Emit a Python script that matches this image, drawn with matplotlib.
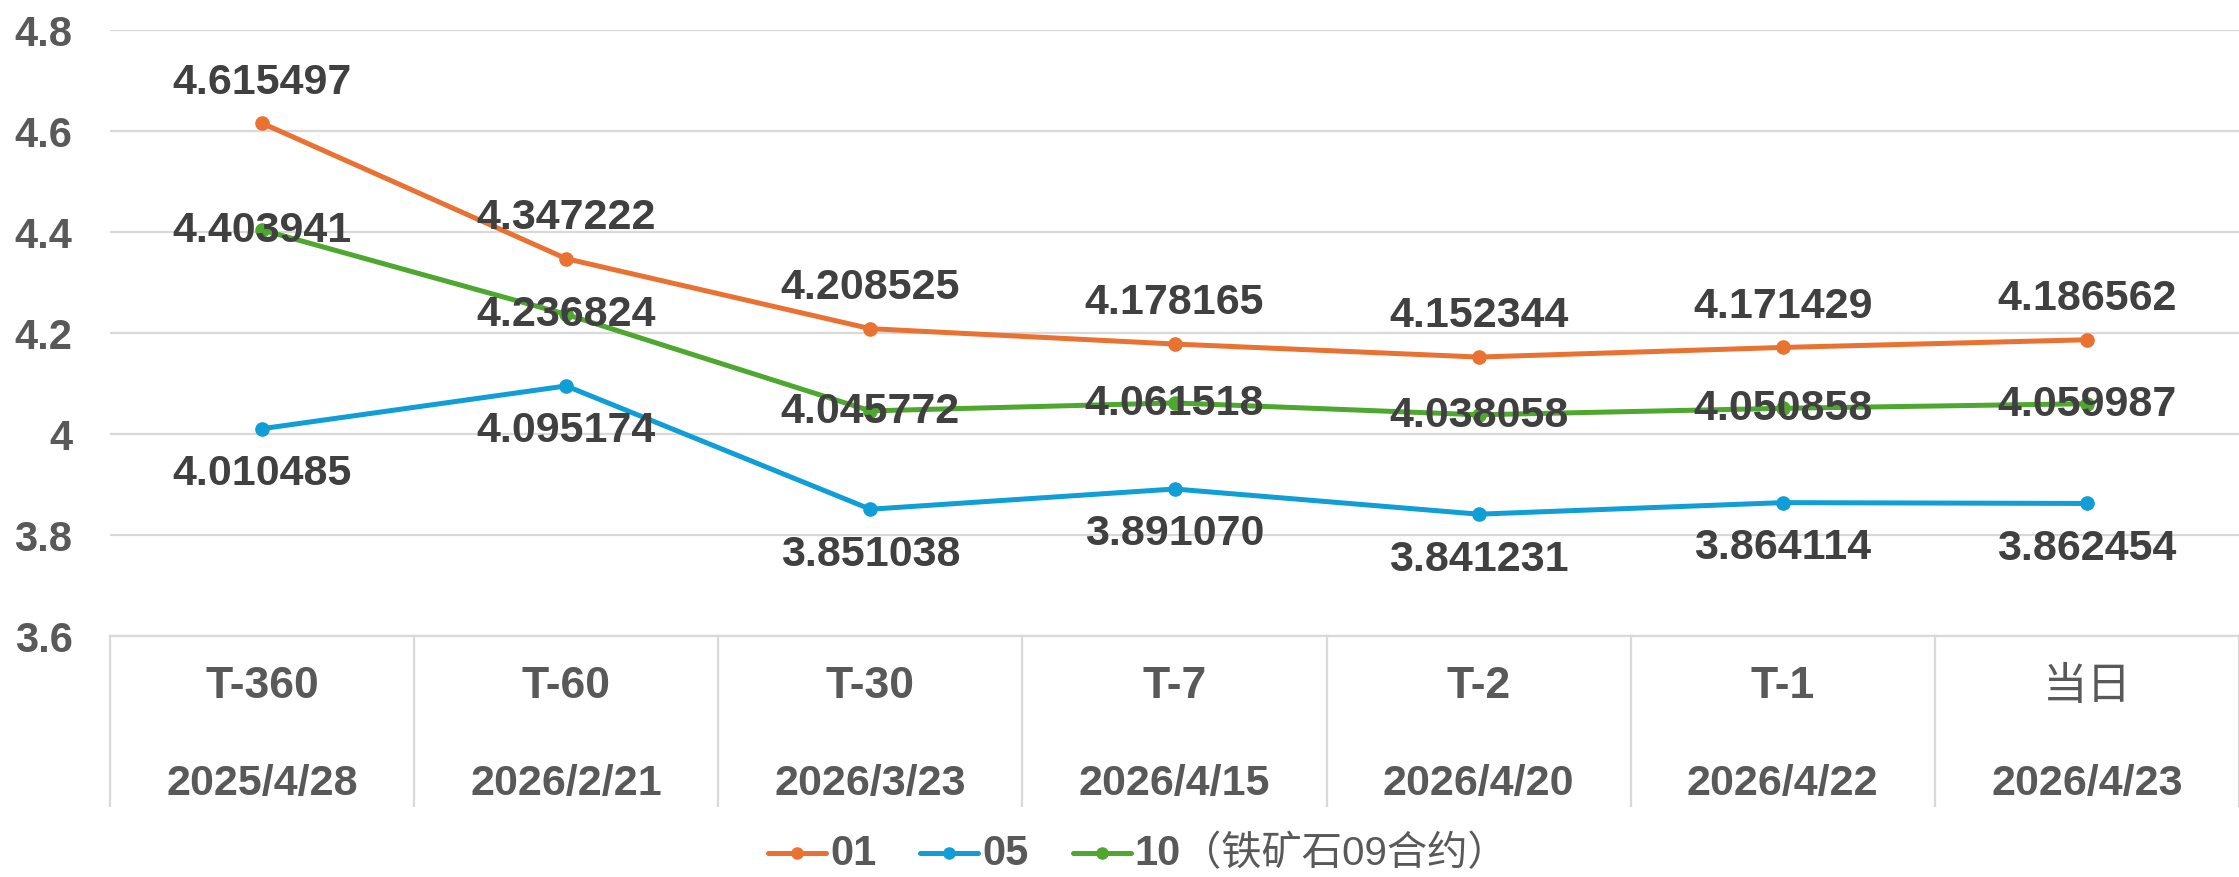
import matplotlib
matplotlib.use("Agg")
import matplotlib.pyplot as plt
from matplotlib.lines import Line2D

periods = ["T-360", "T-60", "T-30", "T-7", "T-2", "T-1", "当日"]
dates = ["2025/4/28", "2026/2/21", "2026/3/23", "2026/4/15", "2026/4/20", "2026/4/22", "2026/4/23"]
s01 = [4.615497, 4.347222, 4.208525, 4.178165, 4.152344, 4.171429, 4.186562]
s05 = [4.010485, 4.095174, 3.851038, 3.891070, 3.841231, 3.864114, 3.862454]
s10 = [4.403941, 4.236824, 4.045772, 4.061518, 4.038058, 4.050858, 4.059987]
names = ["01", "05", "10"]
name_suffix = ["", "", "（铁矿石09合约）"]
yticks = [3.6, 3.8, 4.0, 4.2, 4.4, 4.6, 4.8]
ytick_labels = ["3.6", "3.8", "4", "4.2", "4.4", "4.6", "4.8"]

C01, C05, C10 = "#E97132", "#0F9ED5", "#4EA72E"
GRID = "#D9D9D9"
TICKC = "#595959"
LABC = "#404040"
FONTS = ["Liberation Sans", "Noto Sans CJK SC", "DejaVu Sans"]
plt.rcParams["font.family"] = FONTS

W, H = 2239, 878
fig = plt.figure(figsize=(W / 100, H / 100), dpi=100)
left, right, top, bottom = 110, 2239, 31, 637
ax = fig.add_axes([left / W, 1 - bottom / H, (right - left) / W, (bottom - top) / H])

x = list(range(len(periods)))
ax.set_xlim(-0.5, len(periods) - 0.5)
ax.set_ylim(3.6, 4.8)
ax.set_yticks(yticks)
ax.set_yticklabels(ytick_labels)
ax.tick_params(axis="y", length=0, pad=27, labelsize=30, labelcolor=TICKC)
for lab in ax.get_yticklabels():
    lab.set_fontweight("bold")
ax.set_xticks([])
ax.yaxis.grid(True, color=GRID, linewidth=1.6)
ax.set_axisbelow(True)
for sp in ["top", "right", "left"]:
    ax.spines[sp].set_visible(False)
ax.spines["bottom"].set_color(GRID)
ax.spines["bottom"].set_linewidth(1.6)

series = [(s01, C01, 30), (s05, C05, -32), (s10, C10, 0)]
for vals, col, off in series:
    ax.plot(x, vals, color=col, linewidth=3.6, marker="o", markersize=9.5, zorder=3,
            solid_capstyle="round", clip_on=False)
for vals, col, off in series:
    for xi, v in zip(x, vals):
        ax.annotate(f"{v:.6f}", (xi, v), xytext=(0, off), textcoords="offset points",
                    ha="center", va="center", fontsize=31, fontweight="bold",
                    color=LABC, zorder=5, annotation_clip=False)

# multi-level category axis
trans = ax.get_xaxis_transform()
axh = bottom - top
y_t = -(687 - bottom) / axh
y_d = -(784 - bottom) / axh
y_end = -(807 - bottom) / axh
for b in range(len(periods) + 1):
    ax.plot([b - 0.5, b - 0.5], [0, y_end], transform=trans, color=GRID, linewidth=1.6,
            clip_on=False)
for xi, p, d in zip(x, periods, dates):
    w = "normal" if p == "当日" else "bold"
    ax.text(xi, y_t, p, transform=trans, ha="center", va="center", fontsize=32,
            fontweight=w, color=TICKC)
    ax.text(xi, y_d, d, transform=trans, ha="center", va="center", fontsize=31,
            fontweight="bold", color=TICKC)

# manual legend (bold numbers, regular CJK suffix)
renderer = fig.canvas.get_renderer()
yc = 1 - 854 / H
xpos = 768.0
handle_len = 58
for col, nm, suf in zip((C01, C05, C10), names, name_suffix):
    fig.add_artist(Line2D([xpos / W, (xpos + handle_len) / W], [yc, yc],
                          transform=fig.transFigure, color=col, linewidth=3.6,
                          solid_capstyle="round"))
    fig.add_artist(Line2D([(xpos + handle_len / 2) / W], [yc], transform=fig.transFigure,
                          color=col, marker="o", markersize=8, linestyle="none"))
    tx = xpos + handle_len + 4
    t = fig.text(tx / W, yc, nm, ha="left", va="center", fontsize=30, fontweight="bold",
                 color=TICKC)
    bb = t.get_window_extent(renderer)
    xend = bb.x1
    if suf:
        t2 = fig.text(xend / W, yc, suf, ha="left", va="center", fontsize=29,
                      fontweight="normal", color=TICKC)
        xend = t2.get_window_extent(renderer).x1
    xpos = xend + 44

fig.savefig("out.png", dpi=100)
